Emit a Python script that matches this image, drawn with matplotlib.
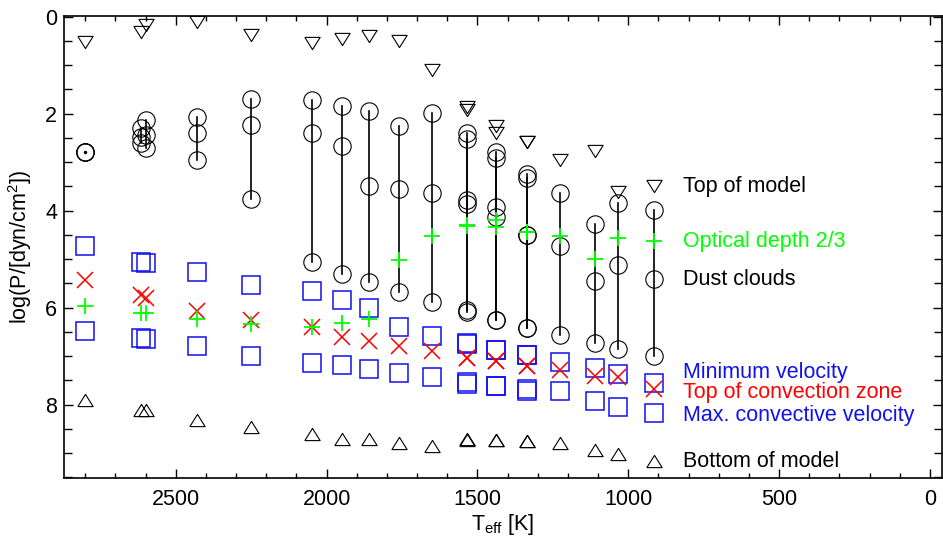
import matplotlib
matplotlib.use("Agg")
import matplotlib.pyplot as plt
from matplotlib.ticker import MultipleLocator

plt.rcParams['font.family'] = ['Liberation Sans', 'DejaVu Sans']
plt.rcParams['mathtext.fontset'] = 'custom'
plt.rcParams['mathtext.rm'] = 'Liberation Sans'
plt.rcParams['mathtext.it'] = 'Liberation Sans'

# Effective temperatures of the models [K]
teff = [2800, 2615, 2600, 2430, 2250, 2050, 1950, 1860, 1760, 1650,
        1535, 1535, 1440, 1440, 1335, 1335, 1225, 1110, 1035, 915]
# log pressure levels
top_model = [0.52, 0.32, 0.18, 0.11, 0.39, 0.54, 0.47, 0.40, 0.51, 1.11,
             1.86, 1.92, 2.26, 2.41, 2.59, 2.59, 2.95, 2.78, 3.62, 3.50]
dust_top = [2.79, 2.30, 2.14, 2.07, 1.69, 1.71, 1.85, 1.95, 2.26, 1.99,
            2.41, 2.53, 2.79, 2.91, 3.25, 3.32, 3.63, 4.28, 3.84, 3.99]
dust_mid = [2.79, 2.48, 2.45, 2.41, 2.24, 2.40, 2.67, 3.49, 3.56, 3.64,
            3.79, 3.87, 3.93, 4.13, 4.51, 4.51, 4.74, 5.46, 5.13, 5.42]
dust_bot = [2.79, 2.60, 2.70, 2.96, 3.77, 5.06, 5.30, 5.47, 5.68, 5.88,
            6.04, 6.09, 6.25, 6.25, 6.42, 6.42, 6.57, 6.74, 6.85, 7.00]
tau23 = [5.97, 6.11, 6.11, 6.23, 6.33, 6.40, 6.32, 6.23, 5.01, 4.53,
         4.30, 4.32, 4.20, 4.34, 4.45, 4.45, 4.53, 4.99, 4.56, 4.63]
conv_top = [5.44, 5.75, 5.81, 6.07, 6.26, 6.41, 6.61, 6.69, 6.80, 6.90,
            7.03, 7.05, 7.10, 7.10, 7.21, 7.21, 7.28, 7.41, 7.43, 7.67]
vel_min = [4.74, 5.06, 5.09, 5.27, 5.54, 5.66, 5.85, 6.00, 6.41, 6.59,
           6.73, 6.76, 6.87, 6.87, 6.98, 6.98, 7.12, 7.25, 7.36, 7.56]
vel_max = [6.48, 6.62, 6.65, 6.79, 7.00, 7.15, 7.19, 7.26, 7.35, 7.43,
           7.53, 7.57, 7.62, 7.62, 7.67, 7.72, 7.72, 7.93, 8.05, 8.17]
bot_model = [7.91, 8.12, 8.12, 8.31, 8.46, 8.60, 8.72, 8.72, 8.79, 8.86,
             8.72, 8.74, 8.74, 8.74, 8.75, 8.75, 8.79, 8.93, 9.02, 9.16]

labels = ["Top of model", "Optical depth 2/3", "Dust clouds",
          "Minimum velocity", "Top of convection zone",
          "Max. convective velocity", "Bottom of model"]

GREEN = '#00ff00'
RED = '#ff0000'
BLUE = '#1010f0'

fig = plt.figure(figsize=(9.43, 5.38), dpi=100)
ax = fig.add_axes([0.068, 0.111, 0.931, 0.860])

down_tri = [(-1, 0.8), (1, 0.8), (0, -0.8), (-1, 0.8)]
up_tri = [(-1, -0.8), (1, -0.8), (0, 0.8), (-1, -0.8)]

# dust cloud extent lines
for t, a, b in zip(teff, dust_top, dust_bot):
    ax.plot([t, t], [a, b], color='black', lw=1.2, zorder=2)
ax.plot([teff[0]], [dust_top[0]], marker='o', ms=1.5, color='black', ls='none', zorder=3)

mk = dict(ls='none', mfc='none', zorder=3)
ax.plot(teff, top_model, marker=down_tri, ms=11, mec='black', mew=0.8, **mk)
ax.plot(teff, dust_top, marker='o', ms=12.5, mec='black', mew=0.8, **mk)
ax.plot(teff, dust_mid, marker='o', ms=12.5, mec='black', mew=0.8, **mk)
ax.plot(teff, dust_bot, marker='o', ms=12.5, mec='black', mew=0.8, **mk)
ax.plot(teff, vel_min, marker='s', ms=12.5, mec=BLUE, mew=1.1, **mk)
ax.plot(teff, vel_max, marker='s', ms=12.5, mec=BLUE, mew=1.1, **mk)
ax.plot(teff, conv_top, marker='x', ms=11, mec=RED, mew=1.1, **mk)
ax.plot(teff, tau23, marker='+', ms=12, mec=GREEN, mew=1.3, **mk)
ax.plot(teff, bot_model, marker=up_tri, ms=11, mec='black', mew=0.8, **mk)

# annotations next to the coolest model
tx = 820
fs = 15.5
ax.text(tx, 3.50, labels[0], color='black', fontsize=fs, va='center', ha='left')
ax.text(tx, 4.63, labels[1], color=GREEN, fontsize=fs, va='center', ha='left')
ax.text(tx, 5.42, labels[2], color='black', fontsize=fs, va='center', ha='left')
ax.text(tx, 7.33, labels[3], color=BLUE, fontsize=fs, va='center', ha='left')
ax.text(tx, 7.76, labels[4], color=RED, fontsize=fs, va='center', ha='left')
ax.text(tx, 8.22, labels[5], color=BLUE, fontsize=fs, va='center', ha='left')
ax.text(tx, 9.18, labels[6], color='black', fontsize=fs, va='center', ha='left')

ax.set_xlim(2870, -40)
ax.set_ylim(9.52, -0.02)
ax.xaxis.set_major_locator(MultipleLocator(500))
ax.xaxis.set_minor_locator(MultipleLocator(100))
ax.yaxis.set_major_locator(MultipleLocator(2))
ax.yaxis.set_minor_locator(MultipleLocator(0.5))
ax.tick_params(axis='both', which='both', direction='in', top=True, right=True,
               labelsize=15.5, width=1.0, colors='black')
ax.tick_params(axis='x', which='major', length=6.5, pad=8)
ax.tick_params(axis='x', which='minor', length=3.3)
ax.tick_params(axis='y', which='major', length=6.5, pad=5)
ax.tick_params(axis='y', which='minor', length=6.0)
for s in ax.spines.values():
    s.set_linewidth(1.2)

ax.set_xlabel(r'T$_{\rm eff}$ [K]', fontsize=15.5, labelpad=1)
ax.set_ylabel(r'log(P/[dyn/cm$^2$])', fontsize=15.5, labelpad=8)

fig.savefig('out.png', dpi=100)
